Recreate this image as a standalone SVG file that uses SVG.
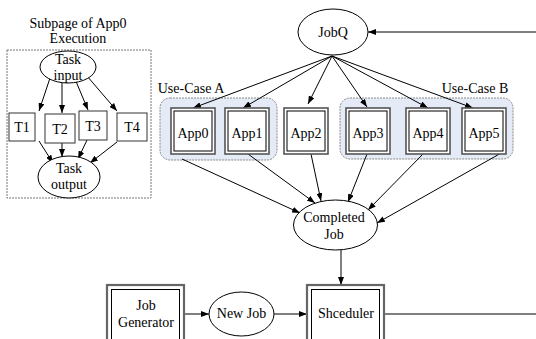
<svg xmlns="http://www.w3.org/2000/svg" width="536" height="339" viewBox="0 0 536 339">
<style>
text{font-family:"Liberation Serif","Times New Roman",serif;font-size:14px;fill:#000;text-anchor:middle}
.ln{stroke:#000;stroke-width:1;fill:none}
.ar{stroke:#000;stroke-width:1;fill:none;marker-end:url(#ah)}
.ell{fill:#fff;stroke:#000;stroke-width:1}
.box{fill:#fff;stroke:#333;stroke-width:1}
.dbo{fill:#fff;stroke:#555;stroke-width:1.6}
.dbi{fill:none;stroke:#000;stroke-width:1}
.big{fill:#fff;stroke:#666;stroke-width:2.2}
.uc{fill:#e4ebf6;stroke:#8a8a8a;stroke-width:1;stroke-dasharray:2 1}
.sub{fill:none;stroke:#777;stroke-width:1;stroke-dasharray:2 1}
</style>
<defs>
<marker id="ah" markerUnits="userSpaceOnUse" markerWidth="8" markerHeight="6" refX="8" refY="3" orient="auto">
<path d="M0,0 L8,3 L0,6 z" fill="#000"/>
</marker>
</defs>
<rect width="536" height="339" fill="#fff"/>

<g id="subpage">
<text x="78" y="28">Subpage of App0</text>
<text x="78" y="43">Execution</text>
<rect class="sub" x="7" y="50" width="144" height="148"/>
</g>

<g id="usecaseA">
<rect class="uc" x="160" y="98" width="117" height="62" rx="10"/>
<text x="191" y="93">Use-Case A</text>
</g>
<g id="usecaseB">
<rect class="uc" x="340" y="98" width="173" height="61" rx="10"/>
<text x="475" y="93">Use-Case B</text>
</g>

<g id="connectors">
<line class="ar" x1="50" y1="78" x2="39" y2="111"/>
<line class="ar" x1="62" y1="80" x2="62" y2="113"/>
<line class="ar" x1="75" y1="79" x2="88" y2="110"/>
<line class="ar" x1="87" y1="76" x2="117" y2="111"/>
<line class="ar" x1="39" y1="141" x2="53" y2="163"/>
<line class="ar" x1="62" y1="143" x2="62" y2="157"/>
<line class="ar" x1="87" y1="140" x2="78" y2="159"/>
<line class="ar" x1="117" y1="142" x2="90" y2="163"/>

<line class="ar" x1="536" y1="32" x2="368" y2="32"/>
<line class="ar" x1="332" y1="56" x2="193" y2="108"/>
<line class="ar" x1="332" y1="56" x2="243" y2="108"/>
<line class="ar" x1="332" y1="56" x2="308" y2="104"/>
<line class="ar" x1="332" y1="56" x2="367" y2="107"/>
<line class="ar" x1="332" y1="56" x2="428" y2="108"/>
<line class="ar" x1="332" y1="56" x2="473" y2="108"/>

<line class="ar" x1="182" y1="159" x2="300" y2="213"/>
<line class="ar" x1="248" y1="154" x2="315" y2="203"/>
<line class="ar" x1="311" y1="154" x2="321" y2="201"/>
<line class="ar" x1="367" y1="154" x2="348" y2="202"/>
<line class="ar" x1="423" y1="154" x2="368" y2="210"/>
<line class="ar" x1="503" y1="152" x2="377" y2="223"/>

<line class="ar" x1="341" y1="250" x2="341" y2="285"/>
<line class="ar" x1="184" y1="314" x2="209" y2="314"/>
<line class="ar" x1="274" y1="314" x2="307" y2="314"/>
<line class="ln" x1="385" y1="314" x2="536" y2="314"/>
</g>

<g id="taskinput">
<ellipse class="ell" cx="68" cy="67" rx="28" ry="16"/>
<text x="68" y="64">Task</text>
<text x="68" y="80">input</text>
</g>
<g id="t1"><rect class="box" x="9" y="113" width="26" height="28"/><text x="22" y="132">T1</text></g>
<g id="t2"><rect class="box" x="45" y="114" width="30" height="29"/><text x="60" y="134">T2</text></g>
<g id="t3"><rect class="box" x="79" y="111" width="28" height="29"/><text x="93" y="131">T3</text></g>
<g id="t4"><rect class="box" x="117" y="113" width="30" height="28"/><text x="132" y="132">T4</text></g>
<g id="taskoutput">
<ellipse class="ell" cx="69" cy="177" rx="31" ry="21"/>
<text x="69" y="173">Task</text>
<text x="69" y="189">output</text>
</g>

<g id="jobq">
<ellipse class="ell" cx="333" cy="32" rx="35" ry="23"/>
<text x="333" y="37">JobQ</text>
</g>

<g id="app0"><rect class="dbo" x="171" y="108" width="44" height="46"/><rect class="dbi" x="174" y="111" width="38" height="40"/><text x="193" y="138">App0</text></g>
<g id="app1"><rect class="dbo" x="225" y="108" width="44" height="46"/><rect class="dbi" x="228" y="111" width="38" height="40"/><text x="247" y="138">App1</text></g>
<g id="app2"><rect class="dbo" x="284" y="108" width="44" height="46"/><rect class="dbi" x="287" y="111" width="38" height="40"/><text x="306" y="138">App2</text></g>
<g id="app3"><rect class="dbo" x="346" y="108" width="44" height="46"/><rect class="dbi" x="349" y="111" width="38" height="40"/><text x="368" y="138">App3</text></g>
<g id="app4"><rect class="dbo" x="406" y="108" width="44" height="46"/><rect class="dbi" x="409" y="111" width="38" height="40"/><text x="428" y="138">App4</text></g>
<g id="app5"><rect class="dbo" x="462" y="108" width="44" height="46"/><rect class="dbi" x="465" y="111" width="38" height="40"/><text x="484" y="138">App5</text></g>

<g id="completed">
<ellipse class="ell" cx="335.5" cy="225" rx="42" ry="25"/>
<text x="334" y="222">Completed</text>
<text x="334" y="239">Job</text>
</g>

<g id="jobgen">
<rect class="big" x="107" y="285" width="77" height="70"/>
<rect class="dbi" x="111.5" y="289.5" width="68" height="60"/>
<text x="146" y="310">Job</text>
<text x="146" y="327">Generator</text>
</g>
<g id="newjob">
<ellipse class="ell" cx="241.5" cy="314" rx="32.5" ry="22"/>
<text x="241.5" y="318">New Job</text>
</g>
<g id="scheduler">
<rect class="big" x="307" y="285" width="77" height="70"/>
<rect class="dbi" x="311.5" y="289.5" width="68" height="60"/>
<text x="346" y="318">Shceduler</text>
</g>
</svg>
